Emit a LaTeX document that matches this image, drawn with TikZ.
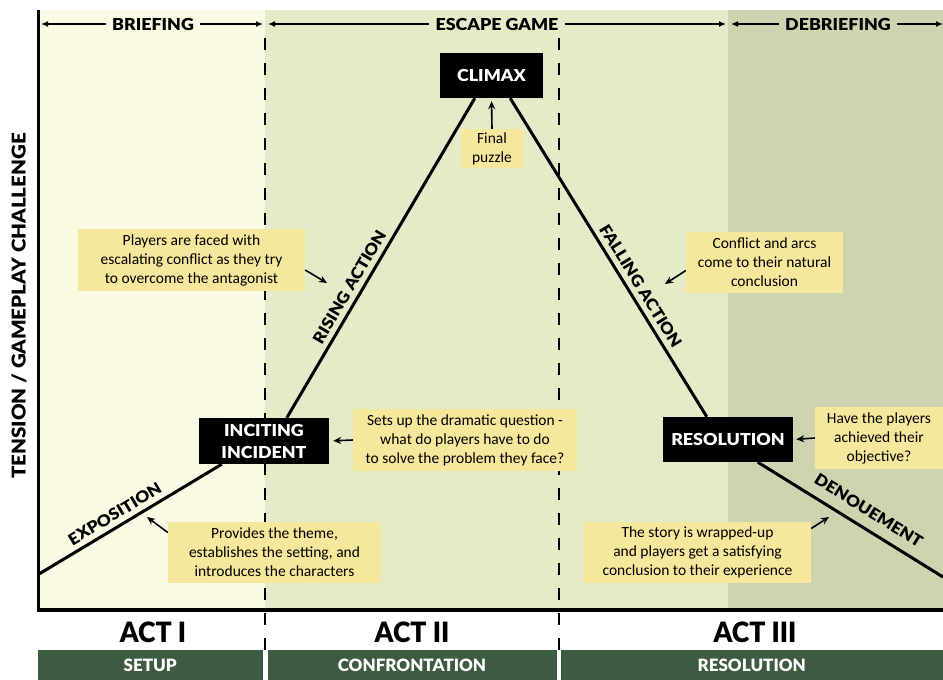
\documentclass[tikz,border=0pt]{standalone}
\usepackage{fontspec}
\setmainfont{Carlito}
\IfFontExistsTF{Lato Black}{%
  \newfontfamily\heavy{Lato Black}[FakeStretch=1.08]
  \newfontfamily\actfont{Lato Black}[FakeStretch=0.95]
  \newfontfamily\barfont{Lato Black}[FakeStretch=1.0]
}{%
  \newfontfamily\heavy{Liberation Sans Bold}[FakeBold=3.2,FakeStretch=1.05]
  \newfontfamily\actfont{Liberation Sans Bold}[FakeBold=4,FakeStretch=0.93]
  \newfontfamily\barfont{Liberation Sans Bold}[FakeBold=3,FakeStretch=1.0]
}
\usetikzlibrary{arrows.meta}

\definecolor{briefbg}{RGB}{250,249,227}
\definecolor{gamebg}{RGB}{228,235,200}
\definecolor{debriefbg}{RGB}{205,212,175}
\definecolor{noteyellow}{RGB}{245,231,155}
\definecolor{actgreen}{RGB}{61,91,64}

\tikzset{
  phase/.style={inner xsep=6pt, inner ysep=2pt, font=\heavy\fontsize{16.5}{18}\selectfont},
  span/.style={line width=1.3pt, -{Latex[length=7pt,width=6pt]}},
  divider/.style={line width=2pt, dash pattern=on 12pt off 13pt},
  axisline/.style={line width=3.5pt},
  arcline/.style={line width=3pt},
  blackbox/.style={fill=black, text=white, align=center, inner sep=0pt,
    font=\heavy\fontsize{16.5}{22}\selectfont},
  arclabel/.style={sloped, above=4pt, inner sep=1pt, font=\heavy\fontsize{16}{18}\selectfont},
  note/.style={fill=noteyellow, align=center, inner sep=0pt,
    font=\fontsize{15.5}{19}\selectfont},
  pointer/.style={line width=1.6pt, -{Stealth[length=8pt,width=7pt]}},
  actlabel/.style={font=\actfont\fontsize{28}{30}\selectfont},
  actbar/.style={fill=actgreen, text=white, inner sep=0pt,
    font=\barfont\fontsize{17}{18}\selectfont},
}

\begin{document}
\begin{tikzpicture}[x=1pt,y=-1pt]
\useasboundingbox (0,0) rectangle (943,680);

% phase backgrounds
\fill[briefbg] (38,10) rectangle (265,610);
\fill[gamebg] (265,10) rectangle (728,610);
\fill[debriefbg] (728,10) rectangle (943,610);

% act dividers
\draw[divider] (265,38) -- (265,652);
\draw[divider] (558.5,38) -- (558.5,652);

% axes
\draw[axisline] (38.5,10) -- (38.5,610) -- (943,610);

% phase spans along the top
\node[phase] (brief) at (153,24) {BRIEFING};
\node[phase] (game) at (497,24) {ESCAPE GAME};
\node[phase] (debrief) at (838,24) {DEBRIEFING};
\coordinate (b0) at (41,24);
\coordinate (b1) at (263,24);
\coordinate (g0) at (268,24);
\coordinate (g1) at (726,24);
\coordinate (d0) at (731,24);
\coordinate (d1) at (943,24);
\draw[span] (brief.west) -- (b0);
\draw[span] (brief.east) -- (b1);
\draw[span] (game.west) -- (g0);
\draw[span] (game.east) -- (g1);
\draw[span] (debrief.west) -- (d0);
\draw[span] (debrief.east) -- (d1);

% vertical axis title
\node[rotate=90, font=\heavy\fontsize{19}{20}\selectfont] (yaxis) at (19,306)
  {TENSION / GAMEPLAY CHALLENGE};

% story beats
\node[blackbox, minimum width=103pt, minimum height=45pt] (climax) at (491.5,75.5) {CLIMAX};
\node[blackbox, minimum width=130pt, minimum height=46pt] (inciting) at (264,441) {INCITING\\INCIDENT};
\node[blackbox, minimum width=130pt, minimum height=45pt] (resolution) at (728,439.5) {RESOLUTION};

% dramatic arc
\coordinate (start) at (39,574);
\coordinate (finish) at (943,577);
\draw[arcline] (start) -- ([xshift=23pt]inciting.south west)
  node[arclabel, pos=0.45] (expo) {EXPOSITION};
\draw[arcline] ([xshift=88pt]inciting.north west) -- ([xshift=35pt]climax.south west)
  node[arclabel, pos=0.39] (rising) {RISING ACTION};
\draw[arcline] ([xshift=-33pt]climax.south east) -- ([xshift=44pt]resolution.north west)
  node[arclabel, pos=0.61] (falling) {FALLING ACTION};
\draw[arcline] ([xshift=95pt]resolution.south west) -- (finish)
  node[arclabel, above=5pt, pos=0.55] (denoue) {DENOUEMENT};

% notes
\node[note, minimum width=62pt, minimum height=39pt] (final) at (492,148.5) {Final\\puzzle};
\node[note, minimum width=227pt, minimum height=62pt] (players) at (191.5,260)
  {Players are faced with\\escalating conflict as they try\\to overcome the antagonist};
\node[note, minimum width=224pt, minimum height=62pt] (setsup) at (465,440)
  {Sets up the dramatic question -\\what do players have to do\\to solve the problem they face?};
\node[note, minimum width=213pt, minimum height=61pt] (provides) at (274.5,552.5)
  {Provides the theme,\\establishes the setting, and\\introduces the characters};
\node[note, minimum width=157pt, minimum height=61pt] (conflict) at (764.5,262.5)
  {Conflict and arcs\\come to their natural\\conclusion};
\node[note, minimum width=128pt, minimum height=62pt] (achieved) at (879,438)
  {Have the players\\achieved their\\objective?};
\node[note, minimum width=227pt, minimum height=61pt] (story) at (697.5,552.5)
  {The story is wrapped-up\\and players get a satisfying\\conclusion to their experience};

% note pointers
\coordinate (risept) at (327,283);
\coordinate (expopt) at (147,517);
\coordinate (fallpt) at (665,284);
\coordinate (denpt) at (829,517);
\draw[pointer, shorten >=3pt] (final.north) -- (climax.south);
\draw[pointer] ([yshift=-10pt]players.east) -- (risept);
\draw[pointer, shorten >=4pt] (setsup.west) -- (inciting.east);
\draw[pointer] ([yshift=20pt]provides.west) -- (expopt);
\draw[pointer] ([yshift=-8pt]conflict.west) -- (fallpt);
\draw[pointer, shorten >=3pt] (achieved.west) -- (resolution.east);
\draw[pointer] ([yshift=24pt]story.east) -- (denpt);

% acts
\node[actlabel] (act1) at (153,632) {ACT I};
\node[actlabel] (act2) at (412,632) {ACT II};
\node[actlabel] (act3) at (755,632) {ACT III};

\node[actbar, minimum width=224.5pt, minimum height=30pt] (setup) at (150.25,665) {SETUP};
\node[actbar, minimum width=289pt, minimum height=30pt] (confront) at (412,665) {CONFRONTATION};
\node[actbar, minimum width=382.5pt, minimum height=30pt] (resbar) at (751.75,665) {RESOLUTION};
\end{tikzpicture}
\end{document}
